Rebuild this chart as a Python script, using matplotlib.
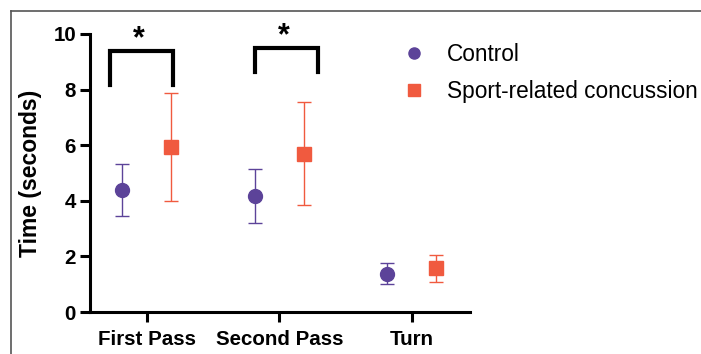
import numpy as np
import matplotlib
matplotlib.use('Agg')
import matplotlib.pyplot as plt
from matplotlib.lines import Line2D

plt.rcParams['font.family'] = ['Liberation Sans', 'DejaVu Sans']

# data
categories = ['First Pass', 'Second Pass', 'Turn']
control_mean = [4.39, 4.16, 1.38]
control_sd = [0.92, 0.97, 0.37]
src_mean = [5.94, 5.70, 1.57]
src_sd = [1.93, 1.85, 0.48]
# significance brackets: (x left, x right, top, leg bottom)
brackets = [(-0.28, 0.20, 9.4, 8.15), (-0.18, 0.29, 9.5, 8.65)]

c_purple = '#5C4399'
c_orange = '#F05A3F'

fig = plt.figure(figsize=(7.01, 3.54), dpi=100)
ax = fig.add_axes([0.1284, 0.1186, 0.542, 0.7854])

x = np.arange(len(categories))
off = 0.185
ax.errorbar(x - off, control_mean, yerr=control_sd, fmt='o', color=c_purple,
            ms=10, elinewidth=1, capsize=5, capthick=1)
ax.errorbar(x + off, src_mean, yerr=src_sd, fmt='s', color=c_orange,
            ms=9.5, elinewidth=1, capsize=5, capthick=1)

for i, (x0, x1, top, bot) in enumerate(brackets):
    ax.plot([x[i] + x0, x[i] + x0, x[i] + x1, x[i] + x1], [bot, top, top, bot],
            color='black', lw=3, solid_joinstyle='miter', clip_on=False)
    ax.text(x[i] + (x0 + x1) / 2 - 0.02, top + 0.42, '*', ha='center', va='center',
            fontsize=22, fontweight='bold', clip_on=False)

ax.set_xlim(-0.43, 2.44)
ax.set_ylim(0, 10)
ax.set_xticks(x)
ax.set_xticklabels(categories)
ax.set_yticks([0, 2, 4, 6, 8, 10])
ax.set_ylabel('Time (seconds)', fontsize=16.5, fontweight='bold', labelpad=8)
for lab in ax.get_xticklabels() + ax.get_yticklabels():
    lab.set_fontweight('bold')
    lab.set_fontsize(14.8)
ax.tick_params(axis='both', width=2.2, length=7, pad=3)
ax.tick_params(axis='x', pad=6)
for s in ['top', 'right']:
    ax.spines[s].set_visible(False)
for s in ['left', 'bottom']:
    ax.spines[s].set_linewidth(2.2)

handles = [Line2D([], [], ls='none', marker='o', ms=8, color=c_purple),
           Line2D([], [], ls='none', marker='s', ms=8, color=c_orange)]
ax.legend(handles, ['Control', 'Sport-related concussion'],
          loc='upper left', bbox_to_anchor=(0.546, 0.936),
          bbox_transform=fig.transFigure, frameon=False, fontsize=16.3,
          handlelength=1.0, handletextpad=0.95, labelspacing=0.62)

# gray frame at top and left
fig.add_artist(Line2D([0.0157, 1], [0.97, 0.97], color='#555555', lw=1.2))
fig.add_artist(Line2D([0.0157, 0.0157], [0, 0.97], color='#555555', lw=1.2))

fig.savefig('out.png', dpi=100)
